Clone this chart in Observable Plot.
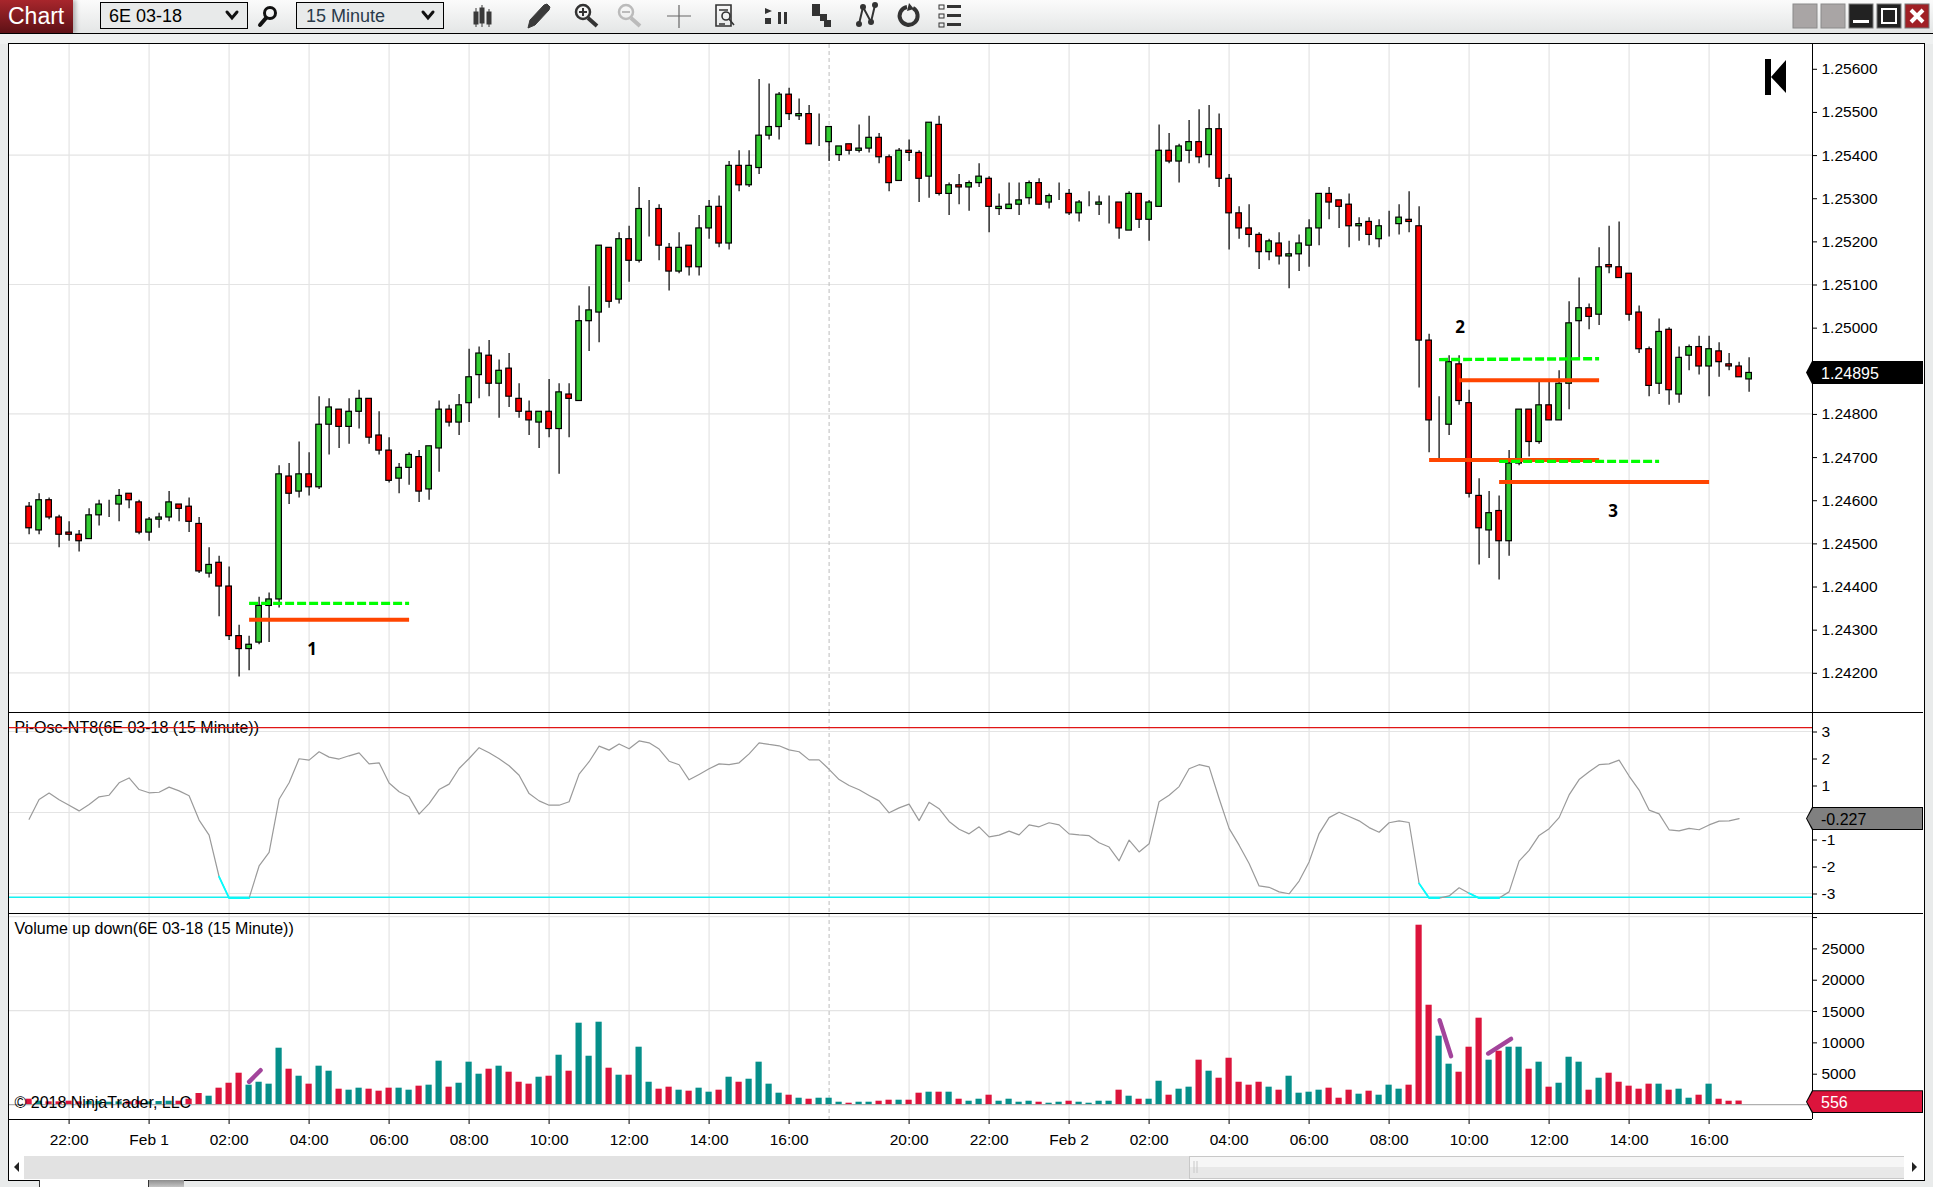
<!DOCTYPE html>
<html>
<head>
<meta charset="utf-8">
<title>6E 03-18 15 Minute</title>
<script src="https://cdn.jsdelivr.net/npm/d3@7"></script>
<script src="https://cdn.jsdelivr.net/npm/@observablehq/plot@0.6"></script>
<style>
html,body{margin:0;padding:0;width:1933px;height:1187px;overflow:hidden;background:#e9ebeb;font-family:"Liberation Sans",Arial,sans-serif;}
.abs{position:absolute;}
#toolbar{left:0;top:0;width:1933px;height:33px;background:linear-gradient(#fbfbfb,#e4e6e6);border-bottom:1px solid #000;}
#gap{left:0;top:34px;width:1933px;height:10px;background:#eff1f1;}
#tab{left:0;top:0;width:73px;height:33px;background:linear-gradient(#a8262c,#5e1116);color:#fff;font-size:23px;line-height:33px;padding-left:8px;box-sizing:border-box;box-shadow:3px 0 4px rgba(0,0,0,.25);}
.dd{top:2px;height:27px;background:#e8eaea;border:1px solid #000;box-sizing:border-box;font-size:18px;line-height:27px;}
#frame{left:8px;top:43px;width:1915px;height:1136px;background:#fff;border:1px solid #000;box-sizing:content-box;}
.ln{background:#000;}
.tag{left:1806px;width:117px;height:23px;line-height:23px;font-size:16px;padding-left:15px;box-sizing:border-box;clip-path:polygon(0 50%,6px 0,100% 0,100% 100%,6px 100%);}
.plot{position:absolute;left:0;}
#sb{left:9px;top:1156px;width:1914px;height:23px;background:#e2e2e2;}
</style>
</head>
<body>
<script>
// ---- price series (unit: 0.00001), one entry per 15 minute bar ----
const open=[124585,124530,124600,124560,124525,124520,124510,124565,124585,124590,124615,124595,124525,124555,124560,124590,124585,124545,124430,124455,124400,124285,124255,124270,124355,124370,124655,124620,124660,124630,124775,124810,124770,124805,124835,124750,124715,124650,124675,124700,124625,124720,124810,124780,124825,124890,124935,124870,124905,124835,124805,124780,124805,124765,124845,124830,125015,125035,125185,125065,125205,125155,125280,125275,125185,125130,125190,125140,125230,125280,125195,125375,125330,125370,125445,125465,125540,125490,125495,125425,125430,125400,125425,125410,125415,125440,125395,125340,125410,125405,125350,125470,125310,125330,125325,125335,125345,125275,125275,125285,125300,125335,125290,125305,125310,125265,125290,125285,125290,125290,125225,125310,125250,125280,125410,125385,125410,125430,125400,125460,125345,125265,125230,125215,125175,125195,125165,125170,125190,125230,125310,125295,125285,125235,125245,125205,125235,125240,125250,125235,124970,124780,124775,124915,124825,124610,124530,124575,124505,124685,124810,124735,124820,124785,124870,125015,125045,125030,125145,125140,125125,125035,124950,124870,124995,124845,124935,124955,124910,124945,124915,124910,124880];
const high=[124595,124615,124605,124565,124550,124530,124580,124600,124600,124625,124615,124600,124560,124570,124620,124590,124605,124560,124490,124470,124445,124310,124285,124375,124385,124680,124685,124735,124710,124840,124835,124810,124835,124855,124835,124805,124745,124685,124710,124715,124725,124830,124820,124845,124950,124955,124970,124925,124940,124870,124830,124805,124880,124870,124870,125050,125095,125190,125185,125220,125235,125325,125295,125285,125195,125220,125190,125260,125295,125305,125385,125410,125410,125575,125565,125545,125555,125530,125515,125495,125465,125420,125425,125470,125490,125450,125400,125415,125435,125410,125475,125490,125335,125355,125340,125380,125350,125310,125335,125335,125340,125345,125310,125335,125320,125295,125315,125305,125305,125290,125315,125310,125295,125470,125450,125425,125480,125505,125515,125495,125355,125280,125285,125220,125205,125220,125200,125215,125250,125310,125325,125295,125310,125255,125255,125250,125270,125285,125315,125280,124985,124840,124935,124935,124855,124650,124620,124610,124715,124810,124810,124875,124875,124900,125060,125115,125055,125185,125235,125245,125125,125050,124955,125020,125000,124955,124960,124980,124980,124965,124940,124920,124930];
const low=[124520,124520,124555,124490,124505,124480,124510,124540,124560,124550,124580,124520,124505,124535,124550,124550,124525,124430,124420,124330,124275,124190,124205,124265,124270,124350,124590,124605,124610,124625,124705,124720,124730,124765,124730,124705,124640,124615,124635,124595,124600,124665,124770,124750,124780,124835,124840,124790,124815,124790,124750,124720,124745,124660,124745,124830,124945,124965,125045,125055,125105,125150,125210,125155,125085,125125,125120,125120,125205,125185,125180,125315,125325,125355,125435,125435,125480,125480,125425,125420,125385,125385,125400,125405,125405,125380,125315,125340,125385,125290,125300,125305,125260,125285,125270,125325,125220,125260,125275,125260,125285,125285,125275,125295,125260,125245,125280,125260,125240,125205,125225,125230,125200,125280,125380,125335,125380,125380,125370,125325,125180,125205,125185,125135,125155,125145,125090,125130,125140,125190,125250,125230,125185,125200,125190,125185,125210,125215,125220,124860,124710,124695,124750,124820,124605,124450,124465,124415,124470,124680,124700,124730,124785,124785,124810,124930,124995,125005,125125,125115,125015,124940,124840,124845,124820,124825,124900,124890,124840,124885,124900,124885,124850];
const close=[124535,124600,124560,124520,124520,124505,124565,124590,124585,124610,124600,124525,124555,124560,124595,124580,124550,124435,124450,124400,124285,124255,124265,124355,124370,124660,124615,124660,124630,124775,124815,124770,124805,124835,124745,124715,124645,124675,124705,124620,124725,124810,124780,124820,124885,124940,124870,124900,124840,124805,124785,124805,124765,124850,124835,125015,125040,125190,125060,125205,125155,125275,125280,125190,125130,125185,125140,125230,125280,125195,125375,125330,125375,125445,125465,125540,125495,125495,125425,125425,125465,125420,125410,125415,125440,125395,125335,125410,125405,125345,125475,125310,125330,125325,125335,125350,125280,125280,125285,125295,125335,125285,125305,125305,125265,125290,125290,125290,125290,125230,125310,125250,125290,125410,125385,125420,125430,125395,125460,125345,125265,125230,125215,125175,125200,125165,125170,125195,125230,125310,125290,125280,125235,125240,125215,125235,125235,125255,125245,124970,124785,124780,124920,124830,124615,124535,124570,124505,124685,124810,124735,124820,124785,124870,125010,125045,125025,125140,125140,125115,125030,124950,124865,124990,124855,124930,124955,124910,124950,124920,124910,124885,124895];
// ---- Pi oscillator ----
const osc=[-0.25,0.48,0.72,0.47,0.27,0.06,0.30,0.58,0.64,1.10,1.28,0.85,0.73,0.75,0.94,0.80,0.62,-0.28,-0.84,-2.38,-3.17,-3.17,-3.17,-1.98,-1.48,0.49,1.10,1.99,1.94,2.25,2.05,1.98,2.10,2.21,1.80,1.84,1.09,0.77,0.58,-0.06,0.33,0.85,1.05,1.63,2.00,2.40,2.21,1.99,1.73,1.38,0.70,0.43,0.27,0.27,0.40,1.42,1.88,2.46,2.31,2.54,2.36,2.65,2.58,2.35,1.90,1.77,1.21,1.41,1.62,1.80,1.77,1.84,2.17,2.58,2.52,2.47,2.32,2.25,1.95,1.95,1.60,1.22,1.00,0.84,0.63,0.43,-0.01,0.17,0.31,-0.30,0.38,0.14,-0.33,-0.62,-0.79,-0.53,-0.90,-0.84,-0.69,-0.83,-0.46,-0.53,-0.38,-0.46,-0.79,-0.83,-0.86,-1.12,-1.28,-1.79,-1.02,-1.46,-1.16,0.40,0.64,0.96,1.62,1.77,1.69,0.52,-0.59,-1.21,-1.89,-2.72,-2.77,-2.94,-3.01,-2.54,-1.83,-0.78,-0.19,0.01,-0.15,-0.31,-0.56,-0.73,-0.38,-0.31,-0.37,-2.63,-3.17,-3.17,-3.09,-2.79,-2.99,-3.17,-3.17,-3.17,-2.94,-1.80,-1.40,-0.85,-0.60,-0.19,0.65,1.22,1.51,1.77,1.80,1.94,1.35,0.83,0.09,-0.05,-0.64,-0.68,-0.59,-0.64,-0.46,-0.32,-0.31,-0.227];
const oscCyanRuns=[[19,22],[139,141],[144,147]];
const oscUpper=3.14, oscLower=-3.14;
// ---- volume ----
const volume=[850,530,430,430,530,430,480,480,370,430,430,530,430,480,530,530,850,1760,1330,2610,3400,5000,3090,3560,3250,8990,5640,4520,3250,6120,5320,2450,2290,2610,2450,2130,2610,2610,2290,2930,3090,6920,2770,3400,6760,4840,5640,6120,5160,3560,3250,4360,4520,7870,5320,12980,7710,13140,5800,4680,4680,9150,3560,2450,2770,2290,2130,2610,1970,2290,4360,3560,4040,6760,3250,1810,1490,1010,850,1010,1010,370,210,370,370,530,690,690,690,1810,1970,1970,1970,850,530,850,1490,530,850,370,530,370,210,370,530,370,210,530,530,2290,1330,850,850,3720,1490,2450,2770,7080,5320,4200,7390,3560,3090,3560,2770,2290,4520,1810,1970,2290,2610,1010,2290,1650,2130,1490,3090,2450,3090,28620,15850,10910,6440,5160,9150,13780,7080,8510,9150,9150,5640,6760,2770,3400,7550,6760,2290,4200,5000,3560,2930,2450,3250,3250,2290,2450,1010,1490,3250,850,530,556];
// ---- axes ----
const timeTicks=[4,12,20,28,36,44,52,60,68,76,88,96,104,112,120,128,136,144,152,160,168];
const timeLabels=["22:00","Feb 1","02:00","04:00","06:00","08:00","10:00","12:00","14:00","16:00","20:00","22:00","Feb 2","02:00","04:00","06:00","08:00","10:00","12:00","14:00","16:00"];
const sessionBreak=80;
const priceTicks=[1.242,1.243,1.244,1.245,1.246,1.247,1.248,1.249,1.250,1.251,1.252,1.253,1.254,1.255,1.256];
const priceGrid=[1.242,1.245,1.248,1.251,1.254];
const oscTicks=[3,2,1,-1,-2,-3];
const oscGrid=[3,0,-3];
const volTicks=[5000,10000,15000,20000,25000,30000];
const volGrid=[15000,30000];
// ---- hand-drawn levels on the price pane ----
const dashedLevels=[{x1:22,x2:38,y1:1.24361,y2:1.24361},{x1:141,x2:157,y1:1.24926,y2:1.24928},{x1:147,x2:163,y1:1.24690,y2:1.24690}];
const solidLevels=[{x1:22,x2:38,y:1.24323},{x1:143,x2:157,y:1.24878},{x1:140,x2:157,y:1.24693},{x1:147,x2:168,y:1.24642}];
const notes=[{x:28.3,y:1.24256,t:"1"},{x:143.1,y:1.25002,t:"2"},{x:158.4,y:1.24577,t:"3"}];
// ---- hand-drawn strokes on the volume pane ----
const strokes=[{x1:22,y1:3620,x2:23.15,y2:5480},{x1:141.05,y1:13460,x2:142.2,y2:7710},{x1:145.9,y1:8140,x2:148.2,y2:10480}];

const bars=open.map((o,i)=>({i,o,h:high[i]/1e5,l:low[i]/1e5,c:close[i],up:close[i]>=o,
  top:Math.max(o,close[i])/1e5,bot:Math.min(o,close[i])/1e5}));
const oscData=osc.map((v,i)=>({i,v}));
const volData=volume.map((v,i)=>({i,v,up:bars[i].up}));

const W=1933, ML=9, MR=121;
const xDomain=[-1.96,178.34];
const font='"Liberation Sans",Arial,sans-serif';
const GRID="#e4e4e4", AXF=15.5;
const base={width:W,marginLeft:ML,marginRight:MR,marginTop:0,x:{domain:xDomain,axis:null},
  style:{background:"transparent",fontFamily:font,fontSize:AXF+"px",color:"#000",overflow:"visible"}};
const vgrid=()=>[
  Plot.ruleX(timeTicks,{x:d=>d,stroke:GRID,strokeWidth:1.2}),
  Plot.ruleX([sessionBreak],{x:d=>d,stroke:"#bdbdbd",strokeWidth:1,strokeDasharray:"4,3"})
];

// Price pane
const main=Plot.plot({...base,height:668,marginBottom:0,
  y:{domain:[1.24108,1.256563],axis:null},
  marks:[
    Plot.ruleY(priceGrid,{y:d=>d,stroke:GRID,strokeWidth:1.2}),
    ...vgrid(),
    Plot.axisY({anchor:"right",ticks:priceTicks,tickFormat:d=>d.toFixed(5),tickSize:4,tickPadding:5,fontSize:AXF,label:null,dy:0.5}),
    Plot.ruleX(bars,{x:"i",y1:"l",y2:"h",stroke:"#000",strokeWidth:1.2}),
    Plot.rect(bars,{x1:d=>d.i-0.28,x2:d=>d.i+0.28,y1:"bot",y2:"top",fill:d=>d.up?"#32cd32":"#ff0000",stroke:"#000",strokeWidth:1.2}),
    Plot.link(solidLevels,{x1:"x1",x2:"x2",y1:"y",y2:"y",stroke:"#ff4500",strokeWidth:4}),
    Plot.link(dashedLevels,{x1:"x1",x2:"x2",y1:"y1",y2:"y2",stroke:"#00ff00",strokeWidth:3.4,strokeDasharray:"9,3"}),
    Plot.text(notes,{x:"x",y:"y",text:"t",dy:1,fontFamily:'"Open Sans",sans-serif',fontWeight:"bold",fontSize:17,fill:"#000"})
  ]});

// Oscillator pane
const oscPlot=Plot.plot({...base,height:201,marginBottom:0,
  y:{domain:[(812.3-913.3)/27,(812.3-712.3)/27],axis:null},
  marks:[
    Plot.ruleY(oscGrid,{y:d=>d,stroke:GRID,strokeWidth:1.2}),
    ...vgrid(),
    Plot.axisY({anchor:"right",ticks:oscTicks,tickFormat:d=>String(d),tickSize:4,tickPadding:5,fontSize:AXF,label:null,dy:0.5}),
    Plot.text(["Pi-Osc-NT8(6E 03-18 (15 Minute))"],{frameAnchor:"top-left",dx:5,dy:9.5,fill:"#000",fontSize:16}),
    Plot.ruleY([oscUpper],{y:d=>d,stroke:"#e01515",strokeWidth:1.2}),
    Plot.ruleY([oscLower],{y:d=>d,stroke:"#14f0f0",strokeWidth:1.4}),
    Plot.line(oscData,{x:"i",y:"v",stroke:"#9a9a9a",strokeWidth:1.2}),
    ...oscCyanRuns.map(([a,b])=>Plot.line(oscData.slice(a,b+1),{x:"i",y:"v",stroke:"#00ffff",strokeWidth:1.8}))
  ]});

// Volume pane with time axis
const volPlot=Plot.plot({...base,height:243,marginBottom:37,
  y:{domain:[-2389,30488],axis:null},
  marks:[
    Plot.ruleY(volGrid,{y:d=>d,stroke:GRID,strokeWidth:1.2}),
    ...vgrid(),
    Plot.ruleY([0],{y:d=>d,stroke:"#b0b0b0",strokeWidth:1.2}),
    Plot.axisY({anchor:"right",ticks:volTicks,tickFormat:d=>d===30000?"":String(d),tickSize:4,tickPadding:5,fontSize:AXF,label:null,dy:1}),
    Plot.axisX({anchor:"bottom",ticks:timeTicks,tickFormat:d=>timeLabels[timeTicks.indexOf(d)],tickSize:5,tickPadding:9,fontSize:AXF,label:null}),
    Plot.rect(volData,{x1:d=>d.i-0.31,x2:d=>d.i+0.31,y1:0,y2:"v",fill:d=>d.up?"#058f8a":"#dc143c"}),
    Plot.link(strokes,{x1:"x1",y1:"y1",x2:"x2",y2:"y2",stroke:"#a3449b",strokeWidth:4.4,strokeLinecap:"round"}),
    Plot.text(["Volume up down(6E 03-18 (15 Minute))"],{frameAnchor:"top-left",dx:5,dy:9.5,fill:"#000",fontSize:16}),
    Plot.text(["© 2018 NinjaTrader, LLC"],{frameAnchor:"bottom-left",dx:5,dy:-12,fill:"#000",fontSize:16})
  ]});

function el(css,cls,html,parent){const d=document.createElement("div");d.className="abs "+(cls||"");if(css)d.style.cssText+=css;if(html!=null)d.innerHTML=html;(parent||document.body).appendChild(d);return d;}

// page furniture
el("", "", null).id="toolbar";
document.getElementById("toolbar").innerHTML=
 '<div id="tab" class="abs">Chart</div>'+
 '<div class="abs dd" style="left:100px;width:148px;padding-left:8px;color:#000">6E 03-18</div>'+
 '<div class="abs dd" style="left:296px;width:148px;padding-left:9px;color:#2a3a4a">15 Minute</div>';
el("", "", null).id="gap";
el("", "", null).id="frame";
el("left:39px;top:1180px;width:110px;height:7px;background:#fff;border-left:1px solid #333;border-right:1px solid #333;box-sizing:border-box;");
el("left:149px;top:1180px;width:35px;height:7px;background:linear-gradient(#8f8f8f,#c4c4c4);");
el("", "", null).id="sb";
el("left:9px;top:1156px;width:15px;height:23px;background:#fff;");
el("left:1189px;top:1156px;width:715px;height:21px;background:linear-gradient(#f6f6f6 50%,#e8e8e8 50%);border:1px solid #c8c8c8;box-sizing:content-box;");
el("left:1904px;top:1156px;width:19px;height:23px;background:#fff;");

const tops=[[main,44],[oscPlot,712.3],[volPlot,913.3]];
for(const [p,t] of tops){p.classList&&p.classList.add("plot");p.style.position="absolute";p.style.left="0";p.style.top=t+"px";document.body.appendChild(p);}

// separators
el("left:9px;top:712px;width:1914px;height:1px;","ln");
el("left:9px;top:913px;width:1914px;height:1px;","ln");
el("left:9px;top:1119px;width:1803px;height:1px;","ln");
el("left:1812px;top:44px;width:1px;height:1075px;","ln");

// value tags, placed from the last values through the plots' own scales
const yP=main.scale("y").apply(close[close.length-1]/1e5)+44;
const yO=oscPlot.scale("y").apply(osc[osc.length-1])+712.3;
const yV=volPlot.scale("y").apply(volume[volume.length-1])+913.3+1;
function tag(y,bg,fg,txt){
  el(`top:${y-11.5}px;background:#000;`,"tag");
  el(`top:${y-10.5}px;height:21px;line-height:23px;left:1807px;width:115px;background:${bg};color:${fg};`,"tag",txt).style.paddingLeft="14px";
}
tag(yP,"#000","#fff",(close[close.length-1]/1e5).toFixed(5));
tag(yO,"#808080","#000",String(osc[osc.length-1]));
tag(yV,"#dc143c","#fff",String(volume[volume.length-1]));

// icons
const icons=`<svg class="abs" style="left:0;top:0;pointer-events:none" width="1933" height="1187" xmlns="http://www.w3.org/2000/svg">
<g stroke="#111" stroke-width="2.5" fill="none" stroke-linecap="round">
 <polyline points="227,12 232,18 237,12" stroke-width="3"/>
 <polyline points="423,12 428,18 433,12" stroke-width="3"/>
 <circle cx="270" cy="13" r="5.5" stroke-width="3"/><line x1="266" y1="18" x2="260" y2="25" stroke-width="4"/>
</g>
<g fill="#3a3a3a" stroke="#3a3a3a">
 <rect x="474" y="12" width="4" height="12"/><line x1="476" y1="8" x2="476" y2="27"/>
 <rect x="480" y="8" width="4" height="15"/><line x1="482" y1="5" x2="482" y2="27"/>
 <rect x="487" y="12" width="4" height="12"/><line x1="489" y1="9" x2="489" y2="27"/>
 <path d="M528 28l2-8 14-15 3-1 3 3-1 3-14 15z"/>
</g>
<g fill="none" stroke="#333" stroke-width="2.5">
 <circle cx="583" cy="12" r="7"/><line x1="588" y1="18" x2="597" y2="26" stroke-width="4"/><path d="M579 12h8M583 8v8" stroke-width="2"/>
</g>
<g fill="none" stroke="#bbb" stroke-width="2.5">
 <circle cx="626" cy="12" r="7"/><line x1="631" y1="18" x2="640" y2="26" stroke-width="4"/><path d="M622 12h8" stroke-width="2"/>
</g>
<path d="M667 16h24M679 5v23" stroke="#666" stroke-width="1.2" fill="none"/>
<g fill="none" stroke="#333" stroke-width="1.6"><path d="M716 5h15v21h-15z"/><circle cx="726" cy="16" r="4"/><path d="M729 19l5 6M719 10h9M719 24h6"/></g>
<g fill="#333"><path d="M765 8l7 3-7 3zM765 18h6v6h-6zM778 12h3v12h-3zM784 12h3v12h-3z"/>
 <rect x="812" y="4" width="8" height="12"/><rect x="820" y="14" width="7" height="7"/><rect x="824" y="20" width="7" height="7"/></g>
<g fill="none" stroke="#333" stroke-width="2"><path d="M859 24l4-17 8 15 4-17"/></g><g fill="#333"><circle cx="859" cy="24" r="3"/><circle cx="863" cy="7" r="3"/><circle cx="871" cy="22" r="3"/><circle cx="875" cy="5" r="3"/></g>
<path d="M907 7a9 9 0 1 0 6 1" fill="none" stroke="#333" stroke-width="4"/><path d="M909 3l5 6-7 2z" fill="#333"/>
<g fill="#333"><rect x="939" y="5" width="5" height="4" fill="none" stroke="#333"/><rect x="947" y="5" width="14" height="3"/><rect x="939" y="14" width="5" height="4" fill="none" stroke="#333"/><rect x="947" y="14" width="14" height="3"/><rect x="939" y="23" width="5" height="4" fill="none" stroke="#333"/><rect x="947" y="23" width="14" height="3"/></g>
<g><rect x="1793" y="4" width="24" height="24" fill="#a9a5a5" stroke="#8a8a8a"/><rect x="1821" y="4" width="24" height="24" fill="#a9a5a5" stroke="#8a8a8a"/>
 <rect x="1849" y="4" width="24" height="24" fill="#222" stroke="#777"/><rect x="1853" y="20" width="16" height="3" fill="#fff"/>
 <rect x="1877" y="4" width="24" height="24" fill="#222" stroke="#777"/><rect x="1882" y="9" width="14" height="14" fill="none" stroke="#fff" stroke-width="2"/>
 <rect x="1905" y="4" width="24" height="24" fill="#a02025" stroke="#777"/><path d="M1911 10l12 12M1923 10l-12 12" stroke="#fff" stroke-width="4"/></g>
<path d="M1765 59h6v36h-6zM1771 77l15-17v33z" fill="#000"/>
<path d="M14 1167l5-5v10z" fill="#222"/><path d="M1917 1167l-5-5v10z" fill="#222"/>
<path d="M1194 1161v12M1197 1161v12" stroke="#c8c8c8"/>
</svg>`;
document.body.insertAdjacentHTML("beforeend",icons);
</script>
</body>
</html>
